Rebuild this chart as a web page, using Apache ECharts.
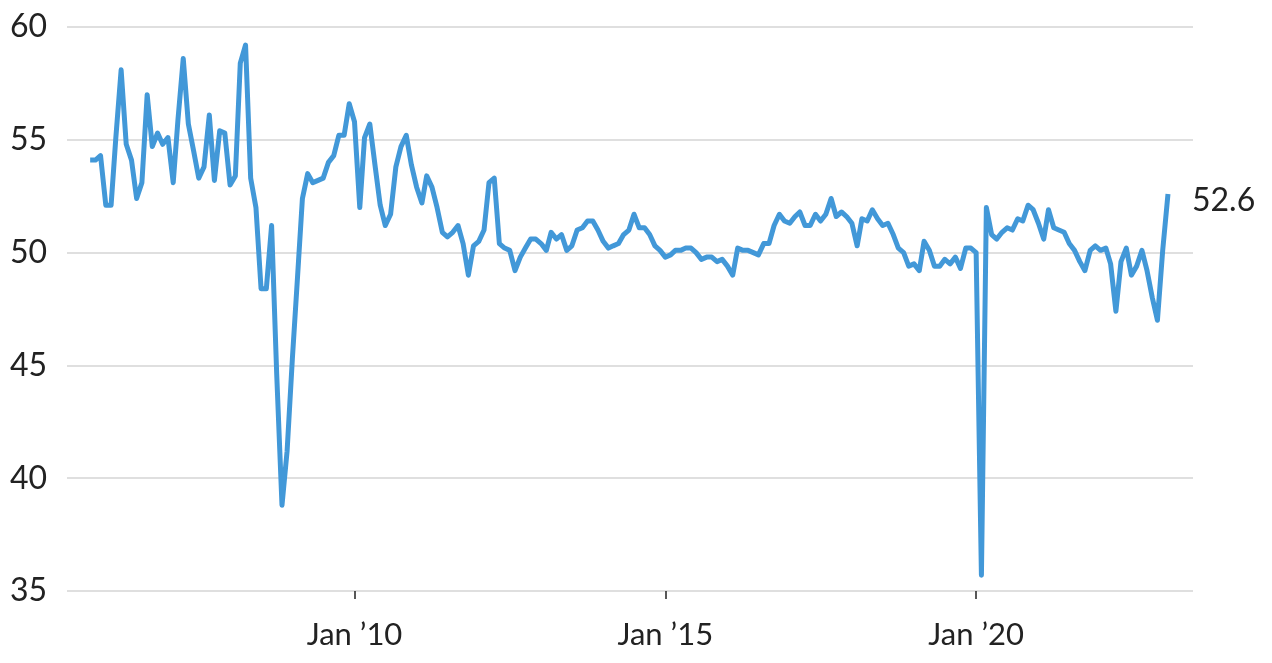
<!DOCTYPE html>
<html>
<head>
<meta charset="utf-8">
<script src="https://cdn.jsdelivr.net/npm/echarts@6/dist/echarts.min.js"></script>
<style>
  html, body { margin: 0; padding: 0; background: #ffffff; }
  #chart { width: 1272px; height: 663px; }
</style>
</head>
<body>
<div id="chart"></div>
<script>
// Monthly index values, first month = October 2005
const startYear = 2005;
const startMonth = 10; // October
const values2005 = [54.1, 54.1, 54.3]; // Oct-Dec
const values2006 = [52.1, 52.1, 55.1, 58.1, 54.8, 54.1, 52.4, 53.1, 57.0, 54.7, 55.3, 54.8];
const values2007 = [55.1, 53.1, 55.9, 58.6, 55.7, 54.5, 53.3, 53.8, 56.1, 53.2, 55.4, 55.3];
const values2008 = [53.0, 53.4, 58.4, 59.2, 53.3, 52.0, 48.4, 48.4, 51.2, 44.6, 38.8, 41.2];
const values2009 = [45.3, 49.0, 52.4, 53.5, 53.1, 53.2, 53.3, 54.0, 54.3, 55.2, 55.2, 56.6];
const values2010 = [55.8, 52.0, 55.1, 55.7, 53.9, 52.1, 51.2, 51.7, 53.8, 54.7, 55.2, 53.9];
const values2011 = [52.9, 52.2, 53.4, 52.9, 52.0, 50.9, 50.7, 50.9, 51.2, 50.4, 49.0, 50.3];
const values2012 = [50.5, 51.0, 53.1, 53.3, 50.4, 50.2, 50.1, 49.2, 49.8, 50.2, 50.6, 50.6];
const values2013 = [50.4, 50.1, 50.9, 50.6, 50.8, 50.1, 50.3, 51.0, 51.1, 51.4, 51.4, 51.0];
const values2014 = [50.5, 50.2, 50.3, 50.4, 50.8, 51.0, 51.7, 51.1, 51.1, 50.8, 50.3, 50.1];
const values2015 = [49.8, 49.9, 50.1, 50.1, 50.2, 50.2, 50.0, 49.7, 49.8, 49.8, 49.6, 49.7];
const values2016 = [49.4, 49.0, 50.2, 50.1, 50.1, 50.0, 49.9, 50.4, 50.4, 51.2, 51.7, 51.4];
const values2017 = [51.3, 51.6, 51.8, 51.2, 51.2, 51.7, 51.4, 51.7, 52.4, 51.6, 51.8, 51.6];
const values2018 = [51.3, 50.3, 51.5, 51.4, 51.9, 51.5, 51.2, 51.3, 50.8, 50.2, 50.0, 49.4];
const values2019 = [49.5, 49.2, 50.5, 50.1, 49.4, 49.4, 49.7, 49.5, 49.8, 49.3, 50.2, 50.2];
const values2020 = [50.0, 35.7, 52.0, 50.8, 50.6, 50.9, 51.1, 51.0, 51.5, 51.4, 52.1, 51.9];
const values2021 = [51.3, 50.6, 51.9, 51.1, 51.0, 50.9, 50.4, 50.1, 49.6, 49.2, 50.1, 50.3];
const values2022 = [50.1, 50.2, 49.5, 47.4, 49.6, 50.2, 49.0, 49.4, 50.1, 49.2, 48.0, 47.0];
const values2023 = [50.1, 52.6]; // Jan-Feb

// Axis ticks
const yTicks = [35, 40, 45, 50, 55, 60];
const xTickDates = ['2010-01-01', '2015-01-01', '2020-01-01'];
const xTickLabels = ["Jan \u201910", "Jan \u201915", "Jan \u201920"];

const allValues = [].concat(values2005, values2006, values2007, values2008, values2009,
  values2010, values2011, values2012, values2013, values2014, values2015, values2016,
  values2017, values2018, values2019, values2020, values2021, values2022, values2023);

function ts(y, m) { return Date.UTC(y, m - 1, 1); }

const seriesData = allValues.map(function (v, i) {
  const m0 = (startMonth - 1) + i;
  const y = startYear + Math.floor(m0 / 12);
  const m = (m0 % 12) + 1;
  return [ts(y, m), v];
});

const tickTimes = xTickDates.map(function (d) { return Date.parse(d + 'T00:00:00Z'); });
const labelByTime = {};
tickTimes.forEach(function (t, i) { labelByTime[t] = xTickLabels[i]; });

const chart = echarts.init(document.getElementById('chart'), null, { renderer: 'canvas' });
chart.setOption({
  animation: false,
  backgroundColor: '#ffffff',
  grid: { left: 67, right: 79, top: 27, bottom: 72, containLabel: false },
  xAxis: {
    type: 'value',
    min: Date.parse('2005-05-18T00:00:00Z'),
    max: Date.parse('2023-06-28T00:00:00Z'),
    axisLine: { show: false },
    axisTick: {
      show: true,
      customValues: tickTimes,
      length: 8,
      lineStyle: { color: '#222222', width: 1.5 }
    },
    axisLabel: {
      show: true,
      customValues: tickTimes,
      margin: 28,
      color: '#222222',
      fontSize: 31,
      fontFamily: 'Lato',
      formatter: function (val) { return labelByTime[val] || ''; }
    },
    splitLine: { show: false }
  },
  yAxis: {
    type: 'value',
    min: yTicks[0],
    max: yTicks[yTicks.length - 1],
    interval: 5,
    axisLine: { show: false },
    axisTick: { show: false },
    axisLabel: {
      color: '#222222',
      fontSize: 32,
      fontFamily: 'Lato',
      margin: 57,
      align: 'left'
    },
    splitLine: { lineStyle: { color: '#d4d4d4', width: 1.5 } }
  },
  series: [{
    type: 'line',
    data: seriesData,
    showSymbol: false,
    symbol: 'none',
    lineStyle: { color: '#4298d8', width: 5, join: 'round' },
    itemStyle: { color: '#4298d8' },
    endLabel: {
      show: true,
      formatter: function (p) { return p.value[1].toFixed(1); },
      color: '#222222',
      fontSize: 32,
      fontFamily: 'Lato',
      distance: 24,
      offset: [0, 7]
    }
  }]
});
</script>
</body>
</html>
